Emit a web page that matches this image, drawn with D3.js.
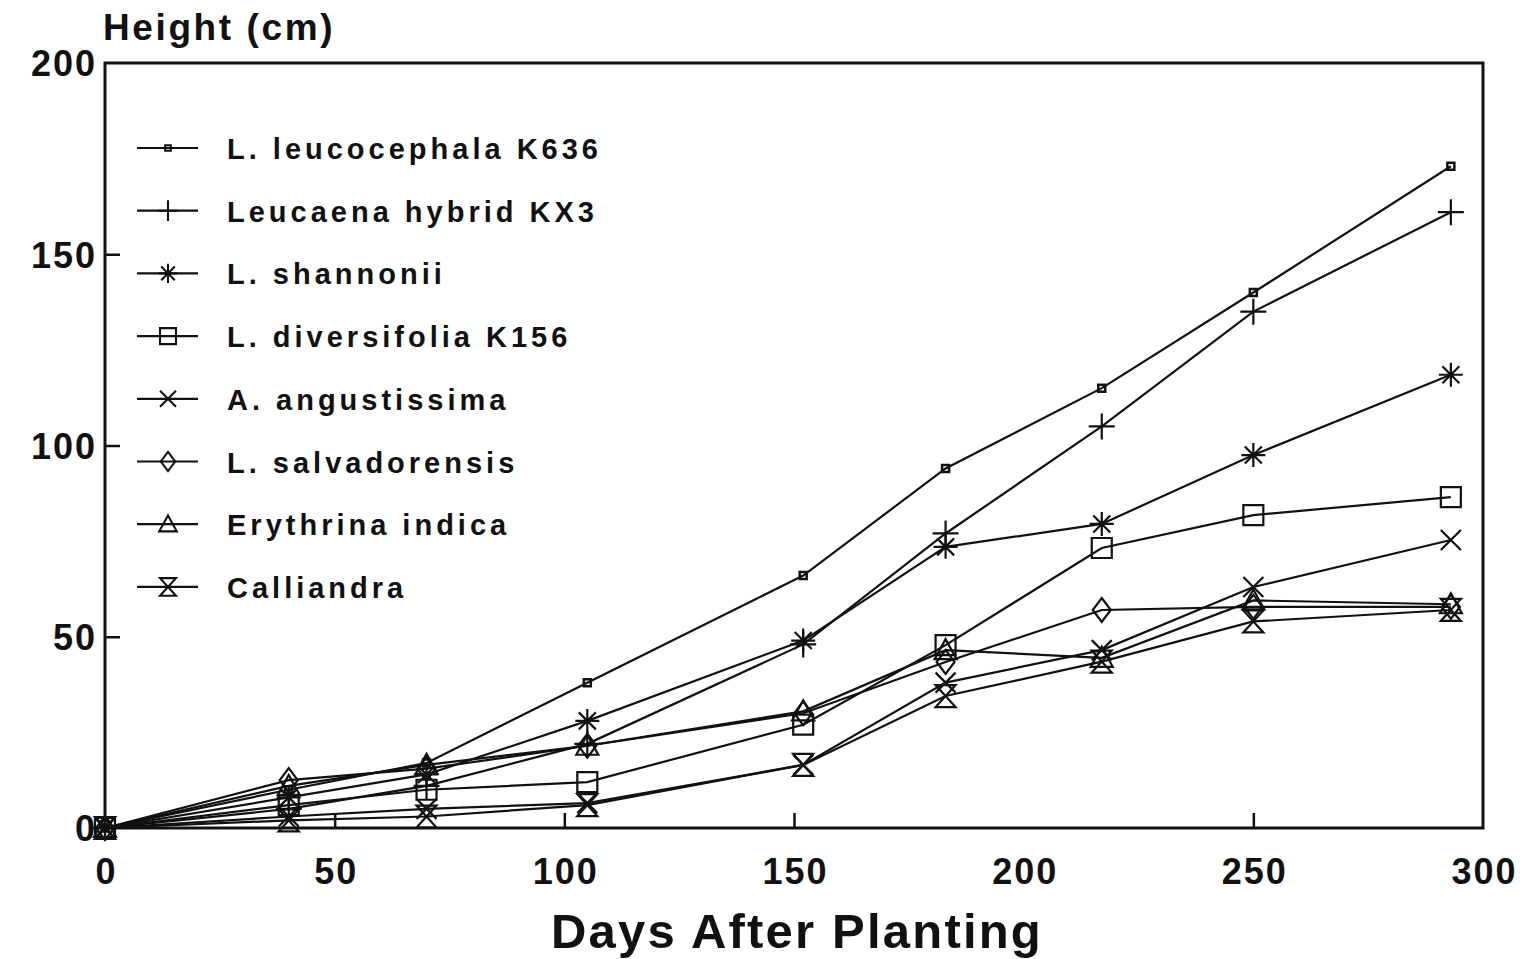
<!DOCTYPE html>
<html lang="en">
<head>
<meta charset="utf-8">
<title>Height (cm)</title>
<script src="https://cdn.jsdelivr.net/npm/d3@7"></script>
<style>
  body { margin: 0; background: #fff; }
  text { font-family: "Liberation Sans", Arial, sans-serif; font-weight: bold; fill: #111; }
</style>
</head>
<body>
<script>
// days after planting when height was measured
var days = [0, 40, 70, 105, 152, 183, 217, 250, 293];

var leucocephala = [0, 10, 17, 38, 66, 94, 115, 140, 173];
var kx3 = [0, 5, 11, 22, 48, 77, 105, 135, 161];
var shannonii = [0, 8, 14, 28, 49, 73.5, 79.5, 97.5, 118.5];
var diversifolia = [0, 6, 10, 12, 27, 47.8, 73.2, 81.8, 86.5];
var angustissima = [0, 3, 5, 6.5, 16.5, 38, 46.5, 63, 75.3];
var salvadorensis = [0, 12.5, 15.5, 21.5, 30, 43.4, 57, 57.8, 57.8];
var erythrina = [0, 11, 16.5, 21.5, 30.5, 46.5, 44.5, 59.5, 58.5];
var calliandra = [0, 2, 3, 6, 16.5, 34.5, 43.5, 54, 57];

var names = ["L. leucocephala K636", "Leucaena hybrid KX3", "L. shannonii", "L. diversifolia K156",
             "A. angustissima", "L. salvadorensis", "Erythrina indica", "Calliandra"];
var shapes = ["dot", "plus", "star", "square", "x", "diamond", "triangle", "hourglass"];
var seriesValues = [leucocephala, kx3, shannonii, diversifolia, angustissima, salvadorensis, erythrina, calliandra];

var xTicks = [0, 50, 100, 150, 200, 250, 300];
var yTicks = [0, 50, 100, 150, 200];

var width = 1535, height = 959;
var svg = d3.select("body").append("svg")
    .attr("width", width)
    .attr("height", height);

var x = d3.scaleLinear().domain([0, 300]).range([105, 1483]);
var y = d3.scaleLinear().domain([0, 200]).range([828, 63]);

// marker shapes, drawn around 0,0
function markerPath(shape) {
  switch (shape) {
    case "dot": return "M-3.5,-3.5H3.5V3.5H-3.5Z";
    case "plus": return "M-13,0H13M0,-13V13";
    case "star": return "M-12,0H12M0,-12V12M-8.5,-8.5L8.5,8.5M-8.5,8.5L8.5,-8.5";
    case "square": return "M-10,-10H10V10H-10Z";
    case "x": return "M-10,-10L10,10M-10,10L10,-10";
    case "diamond": return "M0,-12L9,0L0,12L-9,0Z";
    case "triangle": return "M0,-11L11,9L-11,9Z";
    case "hourglass": return "M-10,-11L10,-11L-10,11L10,11Z";
  }
}

// frame
svg.append("rect")
    .attr("x", x(0)).attr("y", y(200))
    .attr("width", x(300) - x(0)).attr("height", y(0) - y(200))
    .attr("fill", "none").attr("stroke", "#111").attr("stroke-width", 3);

// axes, ticks pointing inward
var xAxis = svg.append("g")
    .attr("transform", "translate(0," + y(0) + ")")
    .call(d3.axisBottom(x).tickValues(xTicks).tickSize(-15).tickPadding(27).tickSizeOuter(0));
var yAxis = svg.append("g")
    .attr("transform", "translate(" + x(0) + ",0)")
    .call(d3.axisLeft(y).tickValues(yTicks).tickSize(-15).tickPadding(10).tickSizeOuter(0));

[xAxis, yAxis].forEach(function(a) {
  a.select(".domain").remove();
  a.selectAll(".tick line").attr("stroke", "#111").attr("stroke-width", 2.5)
      .filter(function(d) { return d == 0 || d == 200 || d == 300; }).remove();
  a.selectAll(".tick text")
      .style("font-family", "'Liberation Sans', Arial, sans-serif")
      .style("font-weight", "bold")
      .style("font-size", "36px")
      .style("letter-spacing", "2px")
      .attr("fill", "#111");
});
xAxis.selectAll(".tick text").attr("dx", "1px").attr("dy", "0.8em");
yAxis.selectAll(".tick text").attr("dx", "2px").attr("dy", "0.36em");

// axis titles
svg.append("text")
    .attr("x", 103).attr("y", 40)
    .style("font-size", "37px").style("letter-spacing", "2.6px")
    .text("Height (cm)");

svg.append("text")
    .attr("x", 797).attr("y", 948)
    .attr("text-anchor", "middle")
    .style("font-size", "49px").style("letter-spacing", "2.2px")
    .text("Days After Planting");

// series
var line = d3.line()
    .x(function(d) { return x(d[0]); })
    .y(function(d) { return y(d[1]); });

seriesValues.forEach(function(vals, i) {
  var pts = days.map(function(d, j) { return [d, vals[j]]; });
  var g = svg.append("g");
  g.append("path")
      .attr("d", line(pts))
      .attr("fill", "none")
      .attr("stroke", "#111")
      .attr("stroke-width", 2.2);
  g.selectAll("path.mk")
    .data(pts)
    .enter().append("path")
      .attr("class", "mk")
      .attr("transform", function(d) { return "translate(" + x(d[0]) + "," + y(d[1]) + ")"; })
      .attr("d", markerPath(shapes[i]))
      .attr("fill", "none")
      .attr("stroke", "#111")
      .attr("stroke-width", shapes[i] == "dot" ? 2.5 : 2.2);
});

// legend
var legend = svg.append("g");
names.forEach(function(name, i) {
  var ly = 148 + i * 62.7;
  var row = legend.append("g").attr("transform", "translate(0," + ly + ")");
  row.append("line")
      .attr("x1", 137).attr("x2", 198)
      .attr("stroke", "#111").attr("stroke-width", 2.2);
  row.append("path")
      .attr("transform", "translate(168,0) scale(0.8)")
      .attr("d", markerPath(shapes[i]))
      .attr("fill", "none").attr("stroke", "#111")
      .attr("stroke-width", 2.6);
  row.append("text")
      .attr("x", 227).attr("y", 11)
      .style("font-size", "29px").style("letter-spacing", "4px")
      .text(name);
});
</script>
</body>
</html>
